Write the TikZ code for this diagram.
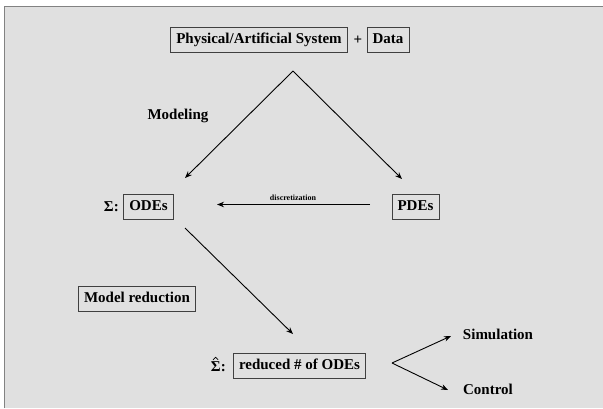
\documentclass[tikz,border=0pt]{standalone}
\usepackage{fontspec}
\setmainfont{Liberation Serif}
\usetikzlibrary{arrows.meta}
\definecolor{bggray}{RGB}{224,224,224}
\definecolor{framegray}{RGB}{130,130,130}
\tikzset{
  box/.style={draw=black!75, line width=0.8pt, inner xsep=5.5pt, inner ysep=0pt,
    minimum height=25pt, text height=10.5pt, text depth=3pt, font=\fontsize{15}{17}\selectfont\bfseries},
  lbl/.style={inner sep=0pt, font=\fontsize{15}{17}\selectfont\bfseries},
  small/.style={inner sep=0pt, font=\fontsize{8}{9}\selectfont\bfseries},
  arr/.style={line width=0.9pt, -{Stealth[length=7pt,width=5.5pt]}},
  hatline/.style={line width=0.7pt}
}
\begin{document}
\begin{tikzpicture}[x=1pt,y=-1pt]
\fill[white] (0,0) rectangle (603,408);
\useasboundingbox (0,0) rectangle (603,408);
\fill[bggray] (4.5,6.5) rectangle (603,408);
\draw[framegray, line width=1.2pt] (4.5,408) -- (4.5,6.5) -- (603,6.5);

\node[box] (phys) at (259,39.5) {Physical/Artificial System};
\node[lbl] (plus) at (358,40) {+};
\node[box] (data) at (388,39.5) {Data};
\coordinate (apex) at (293,71);
\coordinate (mL) at (185,178);
\coordinate (mR) at (402,179);
\node[lbl] (modeling) at (178,116) {Modeling};

\node[box] (ode) at (148.5,206.5) {ODEs};
\node[lbl, anchor=east] (sig) at (119,207) {Σ:};
\node[box] (pde) at (415.5,207) {PDEs};
\coordinate (d1) at (370,204.5);
\coordinate (d2) at (217,204.5);
\node[small] (disc) at (293,198) {discretization};

\coordinate (r1) at (185,228);
\coordinate (r2) at (293,334);
\node[box] (mred) at (137,298.5) {Model reduction};

\node[box] (red) at (299.5,365.5) {reduced \# of ODEs};
\node[lbl, anchor=east] (sighat) at (226,367) {Σ:};
\draw[hatline] ([xshift=2.2pt,yshift=2pt]sighat.north west) -- ([xshift=4.8pt,yshift=4.5pt]sighat.north west) -- ([xshift=7.4pt,yshift=2pt]sighat.north west);
\coordinate (fork) at (392,363);
\coordinate (fS) at (451,336);
\coordinate (fC) at (448,390);
\node[lbl] (sim) at (498,334) {Simulation};
\node[lbl] (ctrl) at (488,389) {Control};

\draw[arr] (apex) -- (mL);
\draw[arr] (apex) -- (mR);
\draw[arr] (d1) -- (d2);
\draw[arr] (r1) -- (r2);
\draw[arr] (fork) -- (fS);
\draw[arr] (fork) -- (fC);
\end{tikzpicture}
\end{document}
